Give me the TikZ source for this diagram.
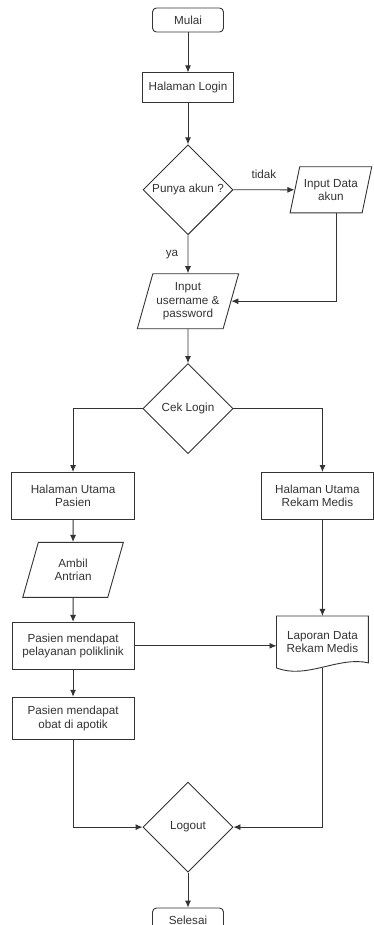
\documentclass[tikz,border=0pt]{standalone}
\usepackage{fontspec}
\setmainfont{Liberation Sans}
\usepackage{tikz}
\usetikzlibrary{shapes.geometric,positioning,arrows.meta}
\tikzstyle{terminal} = [rectangle, draw, rounded corners=4pt, minimum width=71pt, minimum height=24pt]
\tikzstyle{block} = [rectangle, draw, align=center, inner sep=2pt]
\tikzstyle{decision} = [diamond, draw, minimum width=90pt, minimum height=90pt, inner sep=0pt]
\tikzstyle{data} = [trapezium, trapezium left angle=70, trapezium right angle=110, trapezium stretches=true,
    draw, align=center, inner sep=1pt]
\tikzstyle{doc} = [rectangle, align=center, minimum width=91pt, minimum height=51pt]
\tikzstyle{line} = [draw, -{Latex[length=7pt,width=6pt]}]

\begin{document}
\begin{tikzpicture}[line width=0.9pt, color=black!80, font=\fontsize{11.7}{13.5}\selectfont]
      \useasboundingbox (0pt,0pt) rectangle (374pt,-925pt);
      % Login
      \node [terminal] (mulai) at (188pt,-20pt) {Mulai};
      \node [block, below=40pt of mulai, minimum width=91pt, minimum height=30pt] (login) {Halaman Login};
      \node [decision, below=41pt of login] (akun) {Punya akun ?};
      \node [data, right=61pt of akun, minimum width=82pt, minimum height=46pt] (daftar) {Input Data\\akun};
      \node [data, below=38pt of akun, minimum width=102pt, minimum height=55pt] (input) {Input\\username \&\\password};
      \node [decision, below=34pt of input] (cek) {Cek Login};
      % Pasien / Rekam Medis
      \node [block, below left=18pt and 53pt of cek.south, minimum width=123pt, minimum height=47pt] (pasien) {Halaman Utama\\Pasien};
      \node [block, below right=18pt and 73pt of cek.south, minimum width=112pt, minimum height=47pt] (rekam) {Halaman Utama\\Rekam Medis};
      \node [data, below=22pt of pasien, minimum width=101pt, minimum height=55pt] (antrian) {Ambil\\Antrian};
      \node [block, below=24pt of antrian, minimum width=122pt, minimum height=47pt] (pelayanan) {Pasien mendapat\\pelayanan poliklinik};
      \node [block, below=27pt of pelayanan, minimum width=122pt, minimum height=42pt] (obat) {Pasien mendapat\\obat di apotik};
      \node [doc, below=96pt of rekam, xshift=5pt] (laporan) {Laporan Data\\Rekam Medis};
      \draw (laporan.south west) -- (laporan.north west) -- (laporan.north east) -- ([yshift=5pt]laporan.south east)
          .. controls +(-30pt,7pt) and +(30pt,-12pt) .. (laporan.south west) -- cycle;
      % Logout
      \coordinate (tengah) at (obat.south -| cek.south);
      \node [decision, below=42pt of tengah] (logout) {Logout};
      \node [terminal, below=35pt of logout] (selesai) {Selesai};
      % Draw edges
      \path [line] (mulai) -- (login);
      \path [line] (login) -- (akun);
      \path [line] (akun) -- node [above=7pt] {tidak} (daftar);
      \path [line] (akun) -- node [left=6pt] {ya} (input);
      \path [line] ([xshift=6pt]daftar.south) |- (input.east);
      \path [line] (input) -- (cek);
      \path [line] (cek.west) -| (pasien.north);
      \path [line] (cek.east) -| ([xshift=5pt]rekam.north);
      \path [line] (pasien) -- (antrian);
      \path [line] (antrian) -- (pelayanan);
      \path [line] (pelayanan) -- (obat);
      \path [line] (pelayanan.east) -- (pelayanan.east -| laporan.west);
      \path [line] (rekam.south -| laporan.north) -- (laporan.north);
      \path [line] (obat.south) |- (logout.west);
      \path [line] (laporan.south) |- (logout.east);
      \path [line] (logout) -- (selesai);
  \end{tikzpicture}
\end{document}
